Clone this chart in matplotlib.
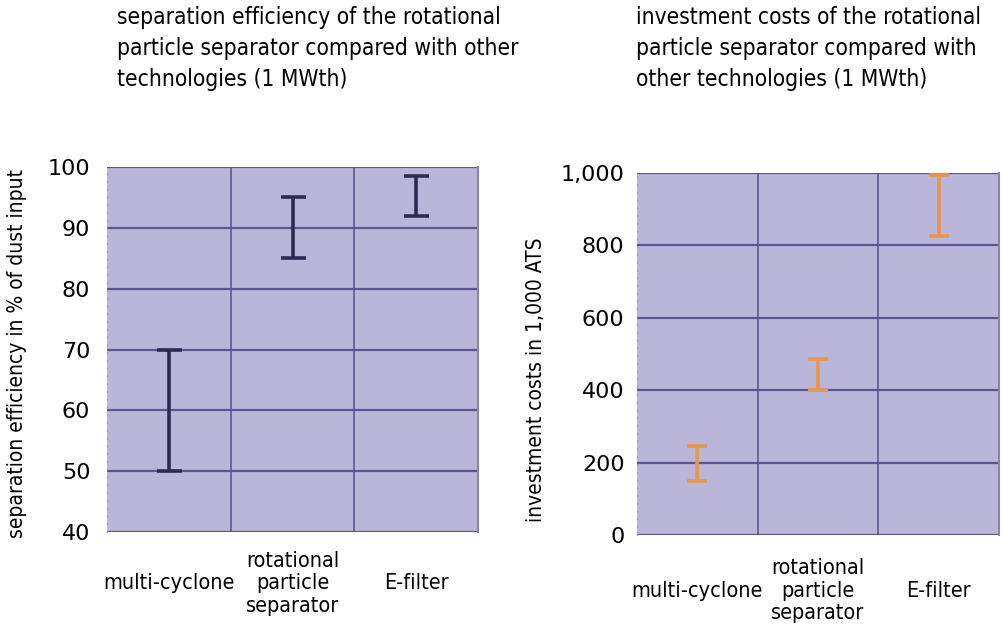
import matplotlib.pyplot as plt
import numpy as np

# Categories and ranges (low / high)
categories = ['multi-cyclone', 'rotational\nparticle\nseparator', 'E-filter']
eff_low = [50, 85, 92]
eff_high = [70, 95, 98.5]
cost_low = [150, 400, 825]
cost_high = [245, 485, 995]
eff_ticks = [40, 50, 60, 70, 80, 90, 100]
cost_ticks = [0, 200, 400, 600, 800, 1000]

title_left = 'separation efficiency of the rotational\nparticle separator compared with other\ntechnologies (1 MWth)'
title_right = 'investment costs of the rotational\nparticle separator compared with\nother technologies (1 MWth)'

bg_color = '#bab6da'
grid_color = '#5c5690'
eff_color = '#2f2a52'
cost_color = '#e8964c'

plt.rcParams['font.family'] = ['DejaVu Sans']
plt.rcParams['font.stretch'] = 'condensed'

fig = plt.figure(figsize=(10.02, 6.28), dpi=100)
W, H = 1002, 628
ax1 = fig.add_axes([107 / W, 1 - 532 / H, 371 / W, 365 / H])
ax2 = fig.add_axes([637 / W, 1 - 535 / H, 362 / W, 362 / H])


def style(ax, ylim, yticks, pad, ypad):
    x = np.arange(len(categories))
    ax.set_facecolor(bg_color)
    ax.set_xlim(-0.5, len(categories) - 0.5)
    ax.set_ylim(*ylim)
    ax.set_yticks(yticks)
    ax.set_yticklabels([f'{v:,}' for v in yticks], fontsize=16, fontstretch='normal')
    ax.set_xticks(x)
    ax.set_xticklabels(categories, fontsize=15.5, linespacing=1.15)
    for lab in ax.get_xticklabels():
        lab.set_va('center')
    ax.set_xticks(x[:-1] + 0.5, minor=True)
    ax.tick_params(axis='x', which='both', length=0, pad=pad)
    ax.tick_params(axis='y', length=0, pad=ypad)
    ax.grid(True, axis='y', color=grid_color, linewidth=1.6)
    ax.grid(True, axis='x', which='minor', color=grid_color, linewidth=1.2)
    ax.set_axisbelow(True)
    for s in ['top', 'bottom']:
        ax.spines[s].set_visible(False)
    ax.spines['left'].set_color('#999999')
    ax.spines['left'].set_linestyle((0, (1, 6)))
    ax.spines['right'].set_color('#8a88a0')
    ax.spines['right'].set_linewidth(1.5)
    return x


x1 = style(ax1, (40, 100), eff_ticks, 37, 12)
lo = np.array(eff_low)
hi = np.array(eff_high)
ax1.errorbar(x1, (lo + hi) / 2, yerr=(hi - lo) / 2, fmt='none',
             ecolor=eff_color, elinewidth=2.6, capsize=9, capthick=2.6)
ax1.set_ylabel('separation efficiency in % of dust input', fontsize=15)
ax1.yaxis.set_label_coords(-0.215, 0.49)
fig.text(117 / W, 1 - 6 / H, title_left, ha='left', va='top', fontsize=16.3, linespacing=1.45)

x2 = style(ax2, (0, 1000), cost_ticks, 40, 9)
lo = np.array(cost_low)
hi = np.array(cost_high)
ax2.errorbar(x2, (lo + hi) / 2, yerr=(hi - lo) / 2, fmt='none',
             ecolor=cost_color, elinewidth=2.6, capsize=7, capthick=2.6)
ax2.set_ylabel('investment costs in 1,000 ATS', fontsize=15)
ax2.yaxis.set_label_coords(-0.25, 0.43)
fig.text(636 / W, 1 - 6 / H, title_right, ha='left', va='top', fontsize=16.3, linespacing=1.45)

fig.savefig('out.png', dpi=100)
